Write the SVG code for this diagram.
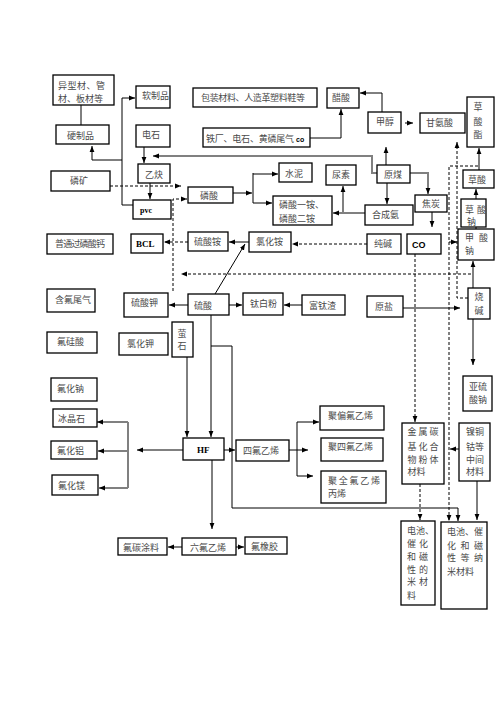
<svg xmlns="http://www.w3.org/2000/svg" width="496" height="702" viewBox="0 0 496 702">
<style>
rect{fill:#fff;stroke:#000;stroke-width:1.3}
text{font-family:"Noto Sans CJK SC","Noto Sans",sans-serif;font-size:9px;fill:#4a4a4a}
.lat{font-family:"Liberation Serif",serif;font-weight:bold;fill:#000}
.sans{font-family:"Liberation Sans",sans-serif;font-weight:bold;fill:#000}
.k{fill:none;stroke:#000;stroke-width:1}
.d{fill:none;stroke:#000;stroke-width:1;stroke-dasharray:3,2}
.g{fill:none;stroke:#808080;stroke-width:2}
.k.m,.d.m{marker-end:url(#ak)}
.g.m{marker-end:url(#ag)}
</style>
<defs>
<marker id="ak" viewBox="0 0 10 10" refX="10" refY="5" markerWidth="6" markerHeight="6" markerUnits="userSpaceOnUse" orient="auto"><path d="M0,1 L10,5 L0,9 z" fill="#000"/></marker>
<marker id="ag" viewBox="0 0 10 10" refX="10" refY="5" markerWidth="6" markerHeight="6" markerUnits="userSpaceOnUse" orient="auto"><path d="M0,1 L10,5 L0,9 z" fill="#000"/></marker>
</defs>
<rect x="0" y="0" width="496" height="702" style="stroke:none"/>
<g id="connectors">
<path class="k" d="M81,105 V125"/>
<path class="k m" d="M133,205 H122 V98 H135"/>
<path class="k m" d="M122,160 H92 V146"/>
<path class="k m" d="M144,147 V163"/>
<path class="k m" d="M150,183 V199"/>
<path class="d m" d="M110,186 H181"/>
<path class="d m" d="M173,291 V199 H187"/>
<path class="k m" d="M233,193 H252"/>
<path class="k" d="M253,173 V203"/>
<path class="k m" d="M253,174 H278"/>
<path class="k m" d="M253,203 H272"/>
<path class="k m" d="M310,138 H341 V109"/>
<path class="k m" d="M382,112 V93 H360"/>
<path class="k m" d="M386,165 V147"/>
<path class="k m" d="M432,212 V227"/>
<path class="d m" d="M415,254 V422"/>
<path class="d m" d="M420,484 V520"/>
<path class="d m" d="M478,166 H449 V521"/>
<path class="k m" d="M449,242 H457"/>
<path class="d m" d="M468,298 H457 V142"/>
<path class="d m" d="M471,274 H181"/>
<path class="d m" d="M367,244 H292"/>
<path class="k m" d="M249,242 H229"/>
<path class="k m" d="M215,294 L245,244"/>
<path class="d m" d="M188,242 H164"/>
<path class="k m" d="M188,305 H169"/>
<path class="k m" d="M229,305 H242"/>
<path class="k m" d="M302,305 H284"/>
<path class="k m" d="M403,308 H460"/>
<path class="k m" d="M473,319 V365"/>
<path class="k m" d="M459,449 H450"/>
<path class="k m" d="M477,481 V520"/>
<path class="k m" d="M211,315 V437"/>
<path class="k m" d="M187,357 V437"/>
<path class="k m" d="M211,346 H232 V508 H458 V521"/>
<path class="k m" d="M224,450 H235"/>
<path class="k" d="M289,450 H297 M297,422 V476"/>
<path class="k m" d="M297,422 H319"/>
<path class="k m" d="M297,450 H308"/>
<path class="k m" d="M297,476 H313"/>
<path class="k m" d="M212,460 V529"/>
<path class="k m" d="M182,547 H168"/>
<path class="k m" d="M236,547 H244"/>
<path class="k m" d="M476,229 V219"/>
<path class="k m" d="M476,199 V189"/>
<path class="g m" d="M377,173 H372 V156 H153"/>
<path class="g m" d="M387,183 V204"/>
<path class="g m" d="M410,173 H428 V194"/>
<path class="g m" d="M365,213 H333"/>
<path class="g m" d="M343,213 V186"/>
<path class="g m" d="M405,123 H413"/>
<path class="g m" d="M479,170 V148"/>
<path class="g m" d="M473,288 V261"/>
<path class="g m" d="M183,450 H137"/>
<path class="g" d="M128,422 V488"/>
<path class="g m" d="M128,422 H97"/>
<path class="g m" d="M128,451 H98"/>
<path class="g m" d="M128,488 H99"/>
</g>
<g id="n1"><rect x="53" y="75" width="61" height="30"/><text x="58" y="88.5" textLength="47" lengthAdjust="spacing">异型材、管</text><text x="58" y="101.5" textLength="45" lengthAdjust="spacing">材、板材等</text></g>
<g id="n2"><rect x="136" y="86" width="34" height="22"/><text x="142" y="98.5">软制品</text></g>
<g id="n3"><rect x="56" y="125" width="53" height="19"/><text x="67" y="138.5">硬制品</text></g>
<g id="n4"><rect x="136" y="125" width="34" height="22"/><text x="142" y="137.5">电石</text></g>
<g id="n5"><rect x="138" y="164" width="32" height="19"/><text x="145" y="177.5">乙炔</text></g>
<g id="n6"><rect x="51" y="171" width="59" height="20"/><text x="70" y="183.5">磷矿</text></g>
<g id="n7"><rect x="133" y="200" width="38" height="19"/><text class="lat" x="140" y="213" style="font-size:8px">pvc</text></g>
<g id="n8"><rect x="47" y="234" width="66" height="20"/><text x="55" y="246.5" textLength="50" lengthAdjust="spacing">普通过磷酸钙</text></g>
<g id="n9"><rect x="131" y="234" width="32" height="19"/><text class="lat" x="136" y="247" style="font-size:9px">BCL</text></g>
<g id="n10"><rect x="188" y="232" width="40" height="19"/><text x="194" y="245">硫酸铵</text></g>
<g id="n11"><rect x="188" y="187" width="45" height="16"/><text x="200" y="198.5">磷酸</text></g>
<g id="n12"><rect x="193" y="88" width="124" height="19"/><text x="201" y="101" textLength="104" lengthAdjust="spacing">包装材料、人造革塑料鞋等</text></g>
<g id="n13"><rect x="327" y="88" width="32" height="20"/><text x="332" y="101">醋酸</text></g>
<g id="n14"><rect x="203" y="128" width="107" height="19"/><text x="206" y="142" textLength="88" lengthAdjust="spacing">铁厂、电石、黄磷尾气</text><text class="sans" x="296" y="142" style="font-size:7px">co</text></g>
<g id="n15"><rect x="368" y="112" width="33" height="21"/><text x="376" y="125">甲醇</text></g>
<g id="n16"><rect x="420" y="113" width="45" height="20"/><text x="426" y="126">甘氨酸</text></g>
<g id="n17"><rect x="467" y="97" width="27" height="50"/><text x="473.5" y="109.5">草</text><text x="473.5" y="124.5">酸</text><text x="473.5" y="138">酯</text></g>
<g id="n18"><rect x="279" y="163" width="33" height="19"/><text x="285" y="177">水泥</text></g>
<g id="n19"><rect x="326" y="165" width="30" height="20"/><text x="332" y="177.5">尿素</text></g>
<g id="n20"><rect x="377" y="165" width="33" height="18"/><text x="384" y="178">原煤</text></g>
<g id="n21"><rect x="273" y="196" width="59" height="29"/><text x="279" y="208">磷酸一铵、</text><text x="279" y="222">磷酸二铵</text></g>
<g id="n22"><rect x="365" y="205" width="48" height="20"/><text x="372" y="218">合成氨</text></g>
<g id="n23"><rect x="415" y="195" width="32" height="17"/><text x="422" y="207">焦炭</text></g>
<g id="n24"><rect x="463" y="170" width="31" height="18"/><text x="468" y="183">草酸</text></g>
<g id="n25"><rect x="461" y="199" width="25" height="28"/><text x="465" y="213">草</text><text x="477" y="213">酸</text><text x="467" y="225">钠</text></g>
<g id="n26"><rect x="458" y="229" width="36" height="31"/><text x="465" y="241">甲</text><text x="479" y="241">酸</text><text x="465" y="254">钠</text></g>
<g id="n27"><rect x="407" y="234" width="34" height="20"/><text class="sans" x="412" y="247.5" style="font-size:9px">CO</text></g>
<g id="n28"><rect x="367" y="234" width="34" height="20"/><text x="374" y="247">纯碱</text></g>
<g id="n29"><rect x="249" y="232" width="42" height="20"/><text x="256" y="245">氯化铵</text></g>
<g id="n30"><rect x="47" y="289" width="48" height="23"/><text x="55" y="302.5">含氟尾气</text></g>
<g id="n31"><rect x="124" y="293" width="44" height="24"/><text x="131" y="306">硫酸钾</text></g>
<g id="n32"><rect x="188" y="294" width="41" height="21"/><text x="194" y="308.5">硫酸</text></g>
<g id="n33"><rect x="243" y="293" width="40" height="22"/><text x="250" y="307">钛白粉</text></g>
<g id="n34"><rect x="302" y="295" width="43" height="20"/><text x="309" y="308.5">富钛渣</text></g>
<g id="n35"><rect x="367" y="296" width="36" height="21"/><text x="375" y="309.5">原盐</text></g>
<g id="n36"><rect x="468" y="288" width="22" height="31"/><text x="474.5" y="300">烧</text><text x="474.5" y="314">碱</text></g>
<g id="n37"><rect x="47" y="332" width="50" height="21"/><text x="57" y="345">氟硅酸</text></g>
<g id="n38"><rect x="119" y="333" width="49" height="22"/><text x="127" y="347">氯化钾</text></g>
<g id="n39"><rect x="172" y="322" width="21" height="35"/><text x="177.5" y="337">萤</text><text x="177.5" y="348.5">石</text></g>
<g id="n40"><rect x="51" y="378" width="46" height="23"/><text x="57" y="392">氟化钠</text></g>
<g id="n41"><rect x="53" y="409" width="44" height="18"/><text x="58" y="422">冰晶石</text></g>
<g id="n42"><rect x="51" y="441" width="46" height="18"/><text x="57" y="453.5">氟化铝</text></g>
<g id="n43"><rect x="52" y="475" width="46" height="20"/><text x="58" y="488.5">氟化镁</text></g>
<g id="n44"><rect x="183" y="438" width="41" height="22"/><text class="lat" x="197" y="452.5" style="font-size:9px">HF</text></g>
<g id="n45"><rect x="236" y="440" width="53" height="21"/><text x="243" y="453.5">四氟乙烯</text></g>
<g id="n46"><rect x="320" y="406" width="64" height="24"/><text x="328" y="418.5">聚偏氟乙烯</text></g>
<g id="n47"><rect x="321" y="438" width="62" height="23"/><text x="328" y="450">聚四氟乙烯</text></g>
<g id="n48"><rect x="321" y="471" width="65" height="32"/><text x="328" y="483.5" textLength="52" lengthAdjust="spacing">聚全氟乙烯</text><text x="328" y="497">丙烯</text></g>
<g id="n49"><rect x="402" y="423" width="42" height="61"/><text x="407.5" y="435" textLength="31" lengthAdjust="spacing">金属碳</text><text x="407.5" y="449.5" textLength="31" lengthAdjust="spacing">基化合</text><text x="407.5" y="463" textLength="31" lengthAdjust="spacing">物粉体</text><text x="407.5" y="475">材料</text></g>
<g id="n50"><rect x="459" y="423" width="31" height="58"/><text x="466" y="435">镍铜</text><text x="466" y="449.5">钴等</text><text x="466" y="463">中间</text><text x="466" y="475">材料</text></g>
<g id="n51"><rect x="463" y="376" width="29" height="35"/><text x="469" y="389.5">亚硫</text><text x="469" y="403">酸钠</text></g>
<g id="n52"><rect x="401" y="521" width="34" height="84"/><text x="407" y="534">电池、</text><text x="407" y="546.5" textLength="21" lengthAdjust="spacing">催化</text><text x="407" y="559.5" textLength="21" lengthAdjust="spacing">和磁</text><text x="407" y="572.5" textLength="21" lengthAdjust="spacing">性的</text><text x="407" y="585" textLength="21" lengthAdjust="spacing">米材</text><text x="407" y="599">料</text></g>
<g id="n53"><rect x="441" y="522" width="46" height="87"/><text x="447" y="535" textLength="36" lengthAdjust="spacing">电池、催</text><text x="447" y="548.5" textLength="36" lengthAdjust="spacing">化和磁</text><text x="447" y="561" textLength="36" lengthAdjust="spacing">性等纳</text><text x="447" y="574.5">米材料</text></g>
<g id="n54"><rect x="182" y="538" width="54" height="17"/><text x="190" y="551">六氟乙烯</text></g>
<g id="n55"><rect x="245" y="537" width="42" height="17"/><text x="251" y="550">氟橡胶</text></g>
<g id="n56"><rect x="118" y="538" width="49" height="17"/><text x="123" y="551">氟碳涂料</text></g>
</svg>
